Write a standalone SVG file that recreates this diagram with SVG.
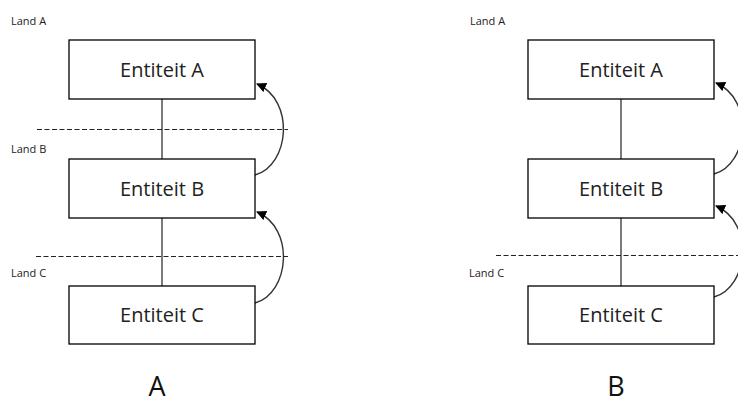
<svg xmlns="http://www.w3.org/2000/svg" width="738" height="409" viewBox="0 0 738 409">
<defs>
<style>
.box{fill:#fff;stroke:#000;stroke-width:1.3}
.lbl{font-family:"Open Sans","Liberation Sans",sans-serif;font-size:20px;fill:#222;text-anchor:middle}
.land{font-family:"Open Sans","Liberation Sans",sans-serif;font-size:11px;fill:#222}
.cap{font-family:"Open Sans","Liberation Sans",sans-serif;font-size:27px;fill:#111;text-anchor:middle}
.line{stroke:#222;stroke-width:1.2;fill:none}
.dash{stroke:#222;stroke-width:1.2;stroke-dasharray:5 2.5;fill:none}
.arc{stroke:#333;stroke-width:1.4;fill:none;marker-end:url(#ah)}
</style>
<marker id="ah" viewBox="0 0 10 10" refX="9" refY="5" markerWidth="10" markerHeight="10" markerUnits="userSpaceOnUse" orient="auto">
<path d="M0,0 L10,5 L0,10 z" fill="#000"/>
</marker>
</defs>
<g id="connectors">
<line class="line" x1="162" y1="99" x2="162" y2="159"/>
<line class="line" x1="162" y1="218" x2="162" y2="286"/>
<line class="line" x1="621" y1="99" x2="621" y2="159"/>
<line class="line" x1="621" y1="218" x2="621" y2="286"/>
<path class="arc" d="M255,175 C290,165 295,100 257,84"/>
<path class="arc" d="M255,303 C290,293 295,228 257,212"/>
<path class="arc" d="M714,174 C749,164 754,99 716,83"/>
<path class="arc" d="M714,297 C749,287 754,222 716,206"/>
</g>
<g id="dividers">
<line class="dash" x1="37" y1="129.5" x2="288" y2="129.5"/>
<line class="dash" x1="36" y1="256.5" x2="288" y2="256.5"/>
<line class="dash" x1="496" y1="255.5" x2="738" y2="255.5"/>
</g>
<g id="labels">
<text class="land" x="11" y="25">Land A</text>
<text class="land" x="11" y="153">Land B</text>
<text class="land" x="11" y="277">Land C</text>
<text class="land" x="470" y="25">Land A</text>
<text class="land" x="469" y="277">Land C</text>
<text class="cap" x="157" y="396">A</text>
<text class="cap" x="616" y="396">B</text>
</g>
<g id="nodeA1"><rect class="box" x="69" y="40" width="186" height="59"/><text class="lbl" x="162" y="77">Entiteit A</text></g>
<g id="nodeB1"><rect class="box" x="69" y="159" width="186" height="59"/><text class="lbl" x="162" y="196">Entiteit B</text></g>
<g id="nodeC1"><rect class="box" x="69" y="286" width="186" height="58"/><text class="lbl" x="162" y="322">Entiteit C</text></g>
<g id="nodeA2"><rect class="box" x="528" y="40" width="186" height="59"/><text class="lbl" x="621" y="77">Entiteit A</text></g>
<g id="nodeB2"><rect class="box" x="528" y="159" width="186" height="59"/><text class="lbl" x="621" y="196">Entiteit B</text></g>
<g id="nodeC2"><rect class="box" x="528" y="286" width="186" height="58"/><text class="lbl" x="621" y="322">Entiteit C</text></g>
</svg>
